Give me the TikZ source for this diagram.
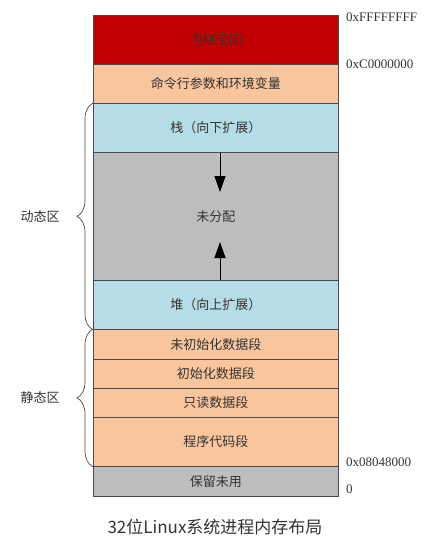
\documentclass[tikz,border=0pt]{standalone}
\usepackage{fontspec}
\setmainfont{Noto Sans CJK SC}
\newfontfamily\hexfont{Liberation Serif}
\usetikzlibrary{arrows.meta,decorations.pathreplacing}
\definecolor{kernred}{HTML}{C00000}
\definecolor{peach}{HTML}{F9C59D}
\definecolor{skyb}{HTML}{B6DDE7}
\definecolor{greyfill}{HTML}{BEBEC0}
\definecolor{linecol}{HTML}{4A4A4A}
\definecolor{txt}{HTML}{333333}
\begin{document}
\begin{tikzpicture}[x=1pt,y=-1pt,
  seg/.style={draw=linecol, line width=0.8pt, rectangle, inner sep=0pt,
    minimum width=245pt, anchor=north west, text=txt,
    font=\fontsize{13}{15}\selectfont},
  addr/.style={anchor=west, inner sep=0pt, text=txt, font=\hexfont\fontsize{13}{15}\selectfont},
  side/.style={inner sep=0pt, text=txt, font=\fontsize{13}{15}\selectfont},
  growarrow/.style={line width=1pt, -{Triangle[width=11pt,length=16pt]}},
  bracestyle/.style={draw=linecol, line width=0.7pt,
    decorate, decoration={brace, amplitude=16pt}}]
\useasboundingbox (0,0) rectangle (433,554);

\node[seg, fill=kernred, minimum height=49pt] (kernel) at (93,15) {内核空间};
\node[seg, fill=peach, minimum height=39pt] (cmd) at (93,64) {命令行参数和环境变量};
\node[seg, fill=skyb, minimum height=49pt] (stack) at (93,103) {栈（向下扩展）};
\node[seg, fill=greyfill, minimum height=128pt] (free) at (93,152) {未分配};
\node[seg, fill=skyb, minimum height=49pt] (heap) at (93,280) {堆（向上扩展）};
\node[seg, fill=peach, minimum height=30pt] (bss) at (93,329) {未初始化数据段};
\node[seg, fill=peach, minimum height=29pt] (data) at (93,359) {初始化数据段};
\node[seg, fill=peach, minimum height=29pt] (ro) at (93,388) {只读数据段};
\node[seg, fill=peach, minimum height=49pt] (code) at (93,417) {程序代码段};
\node[seg, fill=greyfill, minimum height=30pt] (rsv) at (93,466) {保留未用};

\coordinate (a1) at (220,192);
\coordinate (a2) at (220,242);
\draw[growarrow] (stack.south -| a1) -- (a1);
\draw[growarrow] (heap.north -| a2) -- (a2);

\node[addr] (h1) at (346,17) {0xFFFFFFFF};
\node[addr] (h2) at (346,64) {0xC0000000};
\node[addr] (h3) at (346,462) {0x08048000};
\node[addr] (h4) at (346,489) {0};

\draw[bracestyle] (heap.south west) -- (stack.north west);
\draw[bracestyle] (code.south west) -- (bss.north west);
\node[side] (dyn) at (40,217) {动态区};
\node[side] (sta) at (40,398) {静态区};

\node[inner sep=0pt, text=txt, font=\fontsize{17}{19}\selectfont] (cap) at (215,527) {32位Linux系统进程内存布局};
\end{tikzpicture}
\end{document}
